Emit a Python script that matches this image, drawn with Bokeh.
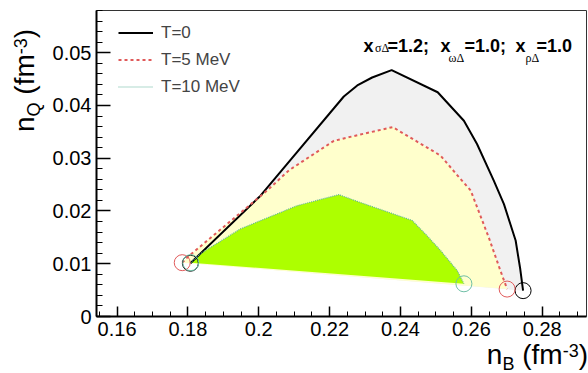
from bokeh.plotting import figure
from bokeh.models import Range1d, FixedTicker, Label, Legend, LegendItem, Div
from bokeh.layouts import row, column
from bokeh.embed import file_html
from bokeh.resources import INLINE

# ---- data ----
nB_T0 = [0.1807, 0.2005, 0.2066, 0.2240, 0.2278, 0.2320, 0.2375, 0.2505, 0.2579,
         0.2616, 0.2663, 0.2692, 0.2725, 0.2738, 0.2746]
nQ_T0 = [0.0101, 0.0229, 0.0278, 0.0417, 0.0438, 0.0453, 0.0467, 0.0425, 0.0371,
         0.0327, 0.0258, 0.0213, 0.0144, 0.0090, 0.0049]

nB_T5 = [0.1784, 0.1798, 0.2024, 0.2085, 0.2212, 0.2287, 0.2378, 0.2513, 0.2569,
         0.2598, 0.2649, 0.2682, 0.2701]
nQ_T5 = [0.0102, 0.0112, 0.0239, 0.0277, 0.0333, 0.0345, 0.0359, 0.0305, 0.0261,
         0.0239, 0.0150, 0.0087, 0.0052]

nB_T10 = [0.1808, 0.1835, 0.1948, 0.2108, 0.2226, 0.2287, 0.2433, 0.2475, 0.2513,
          0.2560, 0.2579]
nQ_T10 = [0.0102, 0.0119, 0.0166, 0.0210, 0.0231, 0.0216, 0.0182, 0.0153, 0.0125,
          0.0087, 0.0062]

x_ticks = [0.16, 0.18, 0.20, 0.22, 0.24, 0.26, 0.28]
x_tick_labels = ["0.16", "0.18", "0.2", "0.22", "0.24", "0.26", "0.28"]
y_ticks = [0.0, 0.01, 0.02, 0.03, 0.04, 0.05]
y_tick_labels = ["0", "0.01", "0.02", "0.03", "0.04", "0.05"]
legend_labels = ["T=0", "T=5 MeV", "T=10 MeV"]

x_minor = [round(0.155 + 0.005 * i, 3) for i in range(28)]
y_minor = [round(0.002 * i, 3) for i in range(30)]

FONT = "Liberation Sans"

p = figure(width=542, height=343, output_backend="svg", toolbar_location=None,
           x_range=Range1d(0.1542, 0.2925), y_range=Range1d(0, 0.058),
           min_border_left=50, min_border_right=2, min_border_top=10,
           min_border_bottom=27, background_fill_color="white",
           border_fill_color="white", margin=0)
p.xgrid.visible = False
p.ygrid.visible = False
p.outline_line_color = "#333333"
p.outline_line_width = 1

p.xaxis.ticker = FixedTicker(ticks=x_ticks, minor_ticks=x_minor)
p.yaxis.ticker = FixedTicker(ticks=y_ticks, minor_ticks=y_minor)
p.xaxis.major_label_overrides = dict(zip(x_ticks, x_tick_labels))
p.yaxis.major_label_overrides = dict(zip(y_ticks, y_tick_labels))
for ax in (p.xaxis[0], p.yaxis[0]):
    ax.axis_line_width = 2
    ax.axis_line_color = "black"
    ax.major_tick_out = 0
    ax.minor_tick_out = 0
    ax.major_tick_line_width = 1.5
    ax.minor_tick_line_width = 1
    ax.major_label_text_font = FONT
    ax.major_label_text_font_size = "20px"
    ax.major_label_text_color = "black"
    ax.major_label_standoff = 5
p.xaxis.major_tick_in = 10
p.xaxis.minor_tick_in = 5
p.yaxis.major_tick_in = 14
p.yaxis.minor_tick_in = 6

# fills
p.patch(nB_T0, nQ_T0, fill_color="#f1f1f1", line_color=None)
p.patch(nB_T5, nQ_T5, fill_color="#ffffcc", line_color=None)
p.patch(nB_T10, nQ_T10, fill_color="#adff00", line_color=None)

# lines
l0 = p.line(nB_T0, nQ_T0, line_color="black", line_width=2)
l5 = p.line(nB_T5, nQ_T5, line_color="#e05a5a", line_width=2, line_dash="3 3")
l10 = p.line(nB_T10, nQ_T10, line_color="#5fb39a", line_width=1.2, line_dash="1 1")

# end-point circles
p.scatter([nB_T0[0], nB_T0[-1]], [nQ_T0[0], nQ_T0[-1]], marker="circle", size=16,
          fill_color=None, line_color="black", line_width=1)
p.scatter([nB_T5[0], nB_T5[-1]], [nQ_T5[0], nQ_T5[-1]], marker="circle", size=16,
          fill_color=None, line_color="#e05a5a", line_width=1)
p.scatter([nB_T10[0], nB_T10[-1]], [nQ_T10[0], nQ_T10[-1]], marker="circle", size=16,
          fill_color=None, line_color="#6fbfa6", line_width=1)

legend = Legend(items=[LegendItem(label=legend_labels[0], renderers=[l0]),
                       LegendItem(label=legend_labels[1], renderers=[l5]),
                       LegendItem(label=legend_labels[2], renderers=[l10])],
                location=(22, 216), border_line_color=None, background_fill_alpha=0,
                padding=0, margin=0, spacing=0, glyph_width=35, glyph_height=27,
                label_standoff=8, label_text_font=FONT, label_text_font_size="17px")
p.add_layout(legend)


def lab(x, y, text, size, font=FONT, style="normal"):
    p.add_layout(Label(x=x, y=y, x_units="screen", y_units="screen", text=text,
                       text_font=font, text_font_size=size, text_font_style=style,
                       text_align="left", text_baseline="alphabetic",
                       text_color="black"))

# top-right annotation (frame-relative screen positions)
lab(267, 271, "x", "18px", style="bold")
lab(278.5, 268.5, "σΔ", "12px", font="Liberation Serif")
lab(291, 271, "=1.2;", "18px", style="bold")
lab(344, 271, "x", "18px", style="bold")
lab(352, 258.5, "ωΔ", "12px", font="Liberation Serif")
lab(368, 271, "=1.0;", "18px", style="bold")
lab(419, 271, "x", "18px", style="bold")
lab(429, 258.5, "ρΔ", "12px", font="Liberation Serif")
lab(440, 271, "=1.0", "18px", style="bold")

# axis titles as HTML text
SUB = "position:relative;top:6px;font-size:18px;"
SUP = "position:relative;top:-7px;font-size:18px;"
BASE = "position:absolute;white-space:nowrap;font-family:'Liberation Sans';font-size:28px;line-height:28px;color:black;"

x_title_html = (
    '<div style="position:relative;width:542px;height:30px;margin:0;padding:0;">'
    f'<div style="{BASE}right:0px;top:-2px;">n<span style="{SUB}">B</span> (fm'
    f'<span style="{SUP}">-3</span>)</div></div>'
)
y_title_html = (
    '<div style="position:relative;width:46px;height:373px;margin:0;padding:0;">'
    f'<div style="{BASE}left:11px;top:132px;transform-origin:0 0;transform:rotate(-90deg);">'
    f'n<span style="{SUB}">Q</span> (fm<span style="{SUP}">-3</span>)</div></div>'
)

x_title = Div(text=x_title_html, width=542, height=30, margin=0)
y_title = Div(text=y_title_html, width=46, height=373, margin=0)

layout = row(y_title, column(p, x_title, spacing=0), spacing=0)

open("out.html", "w").write(file_html(layout, INLINE))
